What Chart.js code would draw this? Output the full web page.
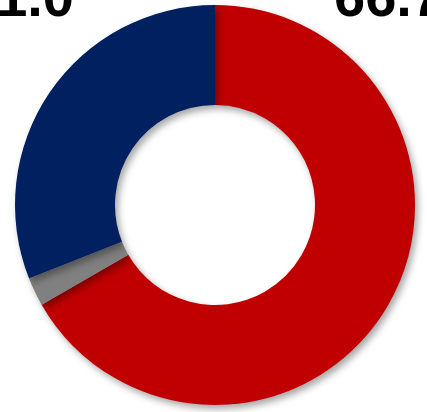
<!DOCTYPE html>
<html>
<head>
<meta charset="utf-8">
<script src="https://cdn.jsdelivr.net/npm/chart.js@4/dist/chart.umd.min.js"></script>
<style>
  html, body { margin: 0; padding: 0; background: #fff; overflow: hidden; }
  #wrap { width: 427px; height: 412px; }
</style>
</head>
<body>
<div id="wrap"><canvas id="myChart" width="427" height="412"></canvas></div>
<script>
const categories = ["Red", "Other", "Blue"];
const values = [66.7, 2.3, 31.0];
const colors = ["#C00000", "#808080", "#002060"];
const shownLabels = ["66.7", "", "31.0"];

// soft drop shadow under the ring
const ringShadow = {
  id: 'ringShadow',
  beforeDatasetsDraw(chart) {
    const ctx = chart.ctx;
    ctx.save();
    ctx.shadowColor = 'rgba(0,0,0,0.35)';
    ctx.shadowBlur = 7;
    ctx.shadowOffsetX = 3;
    ctx.shadowOffsetY = 4;
  },
  afterDatasetsDraw(chart) {
    chart.ctx.restore();
  }
};

// big value labels at the top corners
const topLabels = {
  id: 'topLabels',
  afterDraw(chart) {
    const ctx = chart.ctx;
    const arc = chart.getDatasetMeta(0).data[0];
    const cx = arc.x;
    ctx.save();
    ctx.fillStyle = '#000';
    ctx.font = 'bold 56px "Liberation Sans", Arial, sans-serif';
    ctx.textBaseline = 'alphabetic';
    ctx.textAlign = 'right';
    ctx.fillText(shownLabels[2], cx - 141, 16);
    ctx.textAlign = 'left';
    ctx.fillText(shownLabels[0], cx + 119, 16);
    ctx.restore();
  }
};

new Chart(document.getElementById('myChart'), {
  type: 'doughnut',
  data: {
    labels: categories,
    datasets: [{
      data: values,
      backgroundColor: colors,
      borderWidth: 0
    }]
  },
  options: {
    responsive: false,
    animation: false,
    cutout: '50%',
    layout: { padding: { top: 5, bottom: 7, left: 3, right: 0 } },
    plugins: {
      legend: { display: false },
      tooltip: { enabled: false }
    }
  },
  plugins: [ringShadow, topLabels]
});
</script>
</body>
</html>
